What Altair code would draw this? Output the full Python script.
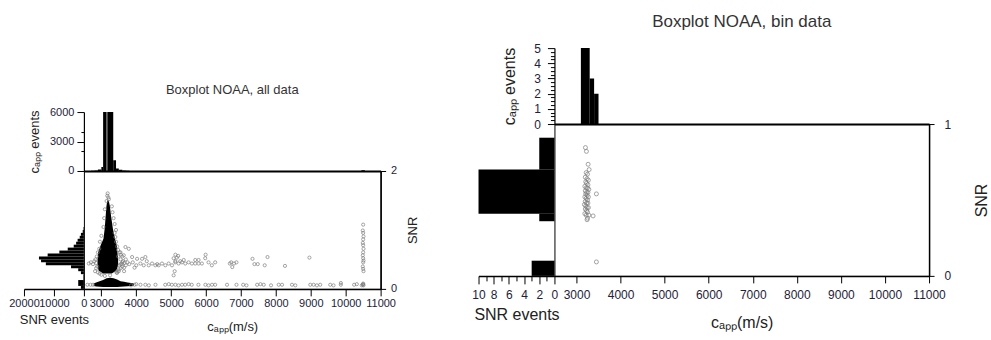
import altair as alt
import pandas as pd

FONT = "Liberation Sans"
LABEL_C = "#1e2238"
TITLE_C = "#222222"

XDOM = [2500, 11000]
XTICKS = [3000, 4000, 5000, 6000, 7000, 8000, 9000, 10000, 11000]

# ---------------- left figure: all data ----------------
L_top_lo = [2700, 2800, 2900, 3000, 3050, 3170, 3340, 3420, 3500, 3600, 3700, 10450]
L_top_hi = [2800, 2900, 3000, 3050, 3150, 3340, 3420, 3500, 3600, 3700, 3800, 10550]
L_top_n = [20, 50, 150, 400, 9000, 9000, 1100, 250, 120, 60, 30, 80]

L_side_lo = [0.00, 0.05, 0.15, 0.25, 0.30, 0.35, 0.40, 0.45, 0.50, 0.55, 0.60, 0.65, 0.70, 0.75, 0.80, 0.85, 0.90, 0.95, 1.00]
L_side_hi = [0.05, 0.15, 0.25, 0.30, 0.35, 0.40, 0.45, 0.50, 0.55, 0.60, 0.65, 0.70, 0.75, 0.80, 0.85, 0.90, 0.95, 1.00, 1.05]
L_side_n = [1000, 1900, 200, 1000, 1900, 4300, 12700, 14300, 15000, 12100, 8200, 5400, 3400, 2600, 2100, 1400, 1000, 400, 150]

# dense core (solid black region) : SNR level -> capp range
core_snr = [0.26, 0.31, 0.40, 0.50, 0.62, 0.74, 0.85, 1.02, 1.25, 1.40, 1.50]
core_lo = [3050, 2920, 2890, 2890, 2910, 2980, 3060, 3095, 3125, 3145, 3170]
core_hi = [3300, 3430, 3480, 3480, 3460, 3440, 3390, 3330, 3275, 3245, 3210]

# dense low-SNR band : capp -> SNR range
band_cap = [2780, 2850, 2950, 3050, 3150, 3250, 3350, 3450, 3550, 3650, 3750, 3850, 3930]
band_lo = [0.05, 0.04, 0.035, 0.03, 0.03, 0.03, 0.03, 0.03, 0.035, 0.04, 0.045, 0.05, 0.055]
band_hi = [0.09, 0.11, 0.13, 0.15, 0.18, 0.19, 0.18, 0.16, 0.13, 0.12, 0.11, 0.10, 0.09]

A_cap = [3180, 3170, 3200, 3215, 3150, 3380, 3400, 3420, 3450, 3480, 3520, 3560, 3600, 3480, 3550, 3620, 3660, 3580, 3520, 3600,
         3550, 3500, 3650, 3430, 3460, 2640, 2700, 2760, 2800, 2830, 2850, 2870, 2880, 2900, 2940, 3000, 3100, 3250,
         2850, 2820, 2900, 2950, 3450, 3500, 3550, 3600, 3700, 3650, 3700, 3750, 3420, 3380, 3350, 3320, 3300,
         3100, 3080, 3060, 3000, 2960]
A_snr = [1.62, 1.58, 1.55, 1.52, 1.49, 0.95, 0.88, 0.80, 0.72, 0.66, 0.62, 0.58, 0.55, 0.55, 0.50, 0.47, 0.44, 0.42, 0.40, 0.38,
         0.35, 0.33, 0.36, 0.28, 0.30, 0.43, 0.45, 0.42, 0.47, 0.50, 0.44, 0.55, 0.38, 0.62, 0.68, 0.24, 0.22, 0.23,
         0.35, 0.30, 0.28, 0.26, 0.27, 0.30, 0.42, 0.45, 0.40, 0.30, 0.50, 0.45, 1.00, 1.10, 1.20, 1.30, 1.40,
         1.35, 1.20, 1.05, 0.90, 0.80]

B_cap = [3690, 3785, 3547, 3642, 3880, 4023, 4166, 4261,
         4118, 4214, 4356, 4452, 4547, 4642, 4737, 4832, 4928, 5023, 5118, 5213, 5308, 5404, 5499, 5594, 5689, 5785, 5880,
         5070, 5165, 5120, 5070, 5260, 5360, 5690, 5785, 5975, 6070, 6165, 6260,
         6680, 6720, 6750, 6800, 6870, 7330, 7385, 7480, 7680, 7760, 8260, 8960,
         5120, 5200, 5986, 5100, 4300, 4600, 3800, 3900, 4000, 3950]
B_snr = [0.71, 0.68, 0.62, 0.57, 0.54, 0.51, 0.51, 0.54,
         0.43, 0.40, 0.40, 0.43, 0.40, 0.40, 0.43, 0.40, 0.43, 0.40, 0.45, 0.43, 0.45, 0.43, 0.45, 0.43, 0.43, 0.43, 0.43,
         0.52, 0.53, 0.47, 0.23, 0.47, 0.49, 0.49, 0.49, 0.52, 0.45, 0.40, 0.45,
         0.43, 0.45, 0.37, 0.43, 0.45, 0.51, 0.42, 0.42, 0.40, 0.54, 0.39, 0.53,
         0.58, 0.56, 0.58, 0.30, 0.47, 0.42, 0.42, 0.45, 0.40, 0.36]

C_cap = [10500, 10490, 10500, 10510, 10500, 10490, 10500, 10510, 10500, 10490,
         10500, 10510, 10500, 10490, 10500, 10510, 10500, 10490, 10510, 10500]
C_snr = [1.09, 0.99, 0.95, 0.89, 0.84, 0.78, 0.74, 0.68, 0.62, 0.57,
         0.52, 0.48, 0.45, 0.38, 0.34, 0.30, 0.08, 0.07, 0.06, 0.09]

D_cap = [2600, 2690, 2760, 3950, 3850, 4000, 4120, 4260, 4360, 4550,
         4830, 4930, 5020, 5120, 5210, 5310, 5400, 5500, 5590, 5780,
         5980, 6070, 6170, 6260, 6600, 6871, 7062, 7157, 7462, 7557,
         7652, 7861, 8080, 8176, 8461, 8556, 8985, 9080, 9175, 9270,
         9556, 9651, 9861, 9861, 10241, 10318, 10460]
D_snr = [0.07, 0.07, 0.07, 0.07, 0.06, 0.08, 0.07, 0.07, 0.06, 0.07,
         0.07, 0.08, 0.07, 0.07, 0.06, 0.07, 0.07, 0.08, 0.07, 0.07,
         0.07, 0.06, 0.07, 0.07, 0.07, 0.07, 0.07, 0.06, 0.07, 0.08,
         0.07, 0.06, 0.07, 0.07, 0.07, 0.06, 0.07, 0.07, 0.06, 0.07,
         0.07, 0.06, 0.07, 0.10, 0.07, 0.08, 0.06]

# ---------------- right figure: bin data ----------------
R_top_lo = [3100, 3300, 3400]
R_top_hi = [3300, 3400, 3500]
R_top_n = [5, 3, 2]

R_side_lo = [0.00, 0.36, 0.41, 0.70]
R_side_hi = [0.10, 0.41, 0.70, 0.91]
R_side_n = [3, 2, 10, 2]

R_cap = [3203, 3226, 3264, 3287, 3452, 3377, 3250, 3240, 3452,
         3220, 3250, 3200, 3240, 3270, 3210, 3230, 3260, 3190, 3220,
         3250, 3280, 3200, 3230, 3260, 3210, 3240, 3270, 3190, 3220,
         3250, 3200, 3230, 3260, 3180, 3210, 3240, 3270, 3200, 3230,
         3250, 3190, 3280, 3220]
R_snr = [0.845, 0.82, 0.735, 0.70, 0.54, 0.395, 0.38, 0.37, 0.092,
         0.68, 0.67, 0.65, 0.64, 0.63, 0.62, 0.61, 0.60, 0.59, 0.58,
         0.58, 0.57, 0.56, 0.55, 0.55, 0.54, 0.53, 0.52, 0.52, 0.51,
         0.50, 0.49, 0.48, 0.48, 0.47, 0.46, 0.45, 0.45, 0.44, 0.43,
         0.42, 0.41, 0.40, 0.40]


def blank(w, h):
    return alt.Chart(pd.DataFrame({"v": [0]})).mark_point(opacity=0).encode(
        x=alt.value(0), y=alt.value(0)).properties(width=w, height=h)


def top_hist(lo, hi, n, ymax, major, minor, W, H, title, s):
    df = pd.DataFrame({"lo": lo, "hi": hi, "n": n})
    x = alt.X("lo:Q", scale=alt.Scale(domain=XDOM, nice=False, zero=False),
              axis=alt.Axis(labels=False, ticks=False, title=None, domainWidth=2))
    base = alt.Chart(df)
    bars = base.mark_rect(color="black", clip=True).encode(
        x=x, x2="hi:Q",
        y=alt.Y("n:Q", scale=alt.Scale(domain=[0, ymax], nice=False, zero=True),
                axis=alt.Axis(values=major, format="d", tickSize=s["ttk"], labelPadding=s["tlp"],
                              labelFontSize=s["lfs"], title="cₐₚₚ events", titleFontSize=s["tfs"],
                              titlePadding=s["ttp"], domainWidth=1.2)),
        y2=alt.datum(0))
    ticks = base.mark_rect(opacity=0, clip=True).encode(
        x=x, x2="hi:Q",
        y=alt.Y("n:Q", axis=alt.Axis(values=minor, orient="left", labels=False, domain=False,
                                     tickSize=s["tmk"], title=None)),
        y2=alt.datum(0))
    return alt.layer(bars, ticks).resolve_axis(y="independent").properties(
        width=W, height=H,
        title=alt.TitleParams(title, fontSize=s["cts"], offset=s["cto"], frame="group", anchor="middle",
                              color="#333333", font=FONT, fontWeight="normal"))


def side_hist(lo, hi, n, ydom, xmax, major, minor, W, H, s):
    df = pd.DataFrame({"lo": lo, "hi": hi, "n": n})
    y = alt.Y("lo:Q", scale=alt.Scale(domain=ydom, nice=False, zero=False), axis=None)
    xs = alt.Scale(domain=[0, xmax], reverse=True, nice=False)
    base = alt.Chart(df)
    layers = [base.mark_rect(color="black").encode(
        y=y, y2="hi:Q",
        x=alt.X("n:Q", scale=xs,
                axis=alt.Axis(values=major, format="d", tickSize=s["stk"], labelPadding=s["slp"],
                              labelFontSize=s["lfs"], title="SNR events", titleFontSize=s["tfs"],
                              titlePadding=s["stp"], domainWidth=1.5)),
        x2=alt.datum(0))]
    if minor:
        layers.append(base.mark_rect(opacity=0).encode(
            y=y, y2="hi:Q",
            x=alt.X("n:Q", scale=xs, axis=alt.Axis(values=minor, orient="bottom", labels=False,
                                                   domain=False, tickSize=s["smk"], title=None)),
            x2=alt.datum(0)))
    return alt.layer(*layers).resolve_axis(x="independent").properties(width=W, height=H)


def main_panel(ydom, yvals, pts, core, band, W, H, s):
    xscale = alt.Scale(domain=XDOM, nice=False, zero=False)
    yscale = alt.Scale(domain=ydom, nice=False, zero=False)
    xaxis = alt.Axis(values=XTICKS, format="d", tickSize=s["xtk"], labelPadding=s["xlp"],
                     labelFontSize=s["lfs"], title="cₐₚₚ(m/s)", titleFontSize=s["tfs"],
                     titlePadding=s["xtp"], domainWidth=1.5)
    yaxis = alt.Axis(orient="right", values=yvals, format="d",
                     labelExpr="datum.value % 1 == 0 ? datum.label : ''",
                     tickSize=s["ytk"], labelPadding=s["ylp"], labelFontSize=s["lfs"], title="SNR",
                     titleFontSize=s["tfs"], titlePadding=s["ytp"], titleAngle=270, titleBaseline="top",
                     domainWidth=1.5)
    layers = []
    if core is not None:
        cdf = pd.DataFrame({"snr": core[0], "lo": core[1], "hi": core[2]})
        layers.append(alt.Chart(cdf).mark_area(orient="horizontal", color="black").encode(
            y=alt.Y("snr:Q", scale=yscale, axis=yaxis),
            x=alt.X("lo:Q", scale=xscale, axis=xaxis), x2="hi:Q"))
    if band is not None:
        bdf = pd.DataFrame({"cap": band[0], "lo": band[1], "hi": band[2]})
        layers.append(alt.Chart(bdf).mark_area(color="black").encode(
            x=alt.X("cap:Q", scale=xscale, axis=xaxis),
            y=alt.Y("lo:Q", scale=yscale, axis=yaxis), y2="hi:Q"))
    pdf = pd.DataFrame({"cap": pts[0], "snr": pts[1]})
    layers.append(alt.Chart(pdf).mark_point(shape="circle", filled=False, size=s["ps"], strokeWidth=0.8,
                                            color="#7a7a7a", opacity=0.85).encode(
        x=alt.X("cap:Q", scale=xscale, axis=xaxis),
        y=alt.Y("snr:Q", scale=yscale, axis=yaxis)))
    return alt.layer(*layers).properties(width=W, height=H,
                                         view=alt.ViewBackground(stroke="black", strokeWidth=1))


# ---------------- build left figure ----------------
sL = dict(lfs=11, tfs=13, cts=13, cto=9, ttk=7, tmk=3, tlp=3, ttp=8,
          stk=7, smk=4, slp=2, stp=5, xtk=7, xlp=2, xtp=12, ytk=5, ylp=5, ytp=10, ps=10)
LW, MW, TH, MH = 60, 297, 59, 118
ptsL = [A_cap + B_cap + C_cap + D_cap, A_snr + B_snr + C_snr + D_snr]
topL = top_hist(L_top_lo, L_top_hi, L_top_n, 6000, [0, 3000, 6000], [2000, 4000], MW, TH,
                "Boxplot NOAA, all data", sL)
sideL = side_hist(L_side_lo, L_side_hi, L_side_n, [0, 2], 20000, [0, 10000, 20000], None, LW, MH, sL)
mainL = main_panel([0, 2], [0, 0.25, 0.5, 0.75, 1, 1.25, 1.5, 1.75, 2], ptsL,
                   [core_snr, core_lo, core_hi], [band_cap, band_lo, band_hi], MW, MH, sL)
gridL = alt.concat(blank(LW, TH), topL, sideL, mainL, columns=2, spacing=0, bounds="flush")
figL = alt.vconcat(blank(1, 34), gridL, spacing=0)

# ---------------- build right figure ----------------
sR = dict(lfs=12, tfs=16, cts=17, cto=11, ttk=7, tmk=4, tlp=7, ttp=16,
          stk=8, smk=5, slp=6, stp=6, xtk=7, xlp=7, xtp=14, ytk=5, ylp=10, ytp=23, ps=16)
LW2, MW2, TH2, MH2 = 76, 375, 76, 152
topR = top_hist(R_top_lo, R_top_hi, R_top_n, 5, [0, 1, 2, 3, 4, 5],
                [0.25, 0.5, 0.75, 1.25, 1.5, 1.75, 2.25, 2.5, 2.75, 3.25, 3.5, 3.75, 4.25, 4.5, 4.75],
                MW2, TH2, "Boxplot NOAA, bin data", sR)
sideR = side_hist(R_side_lo, R_side_hi, R_side_n, [0, 1], 10, [0, 2, 4, 6, 8, 10], [1, 3, 5, 7, 9],
                  LW2, MH2, sR)
mainR = main_panel([0, 1], [0, 0.25, 0.5, 0.75, 1], [R_cap, R_snr], None, None, MW2, MH2, sR)
gridR = alt.concat(blank(LW2, TH2), topR, sideR, mainR, columns=2, spacing=0, bounds="flush")

chart = alt.hconcat(figL, gridR, spacing=50).properties(
    padding={"left": 8, "top": 12, "right": 0, "bottom": 0},
    background="white",
).configure_view(stroke="transparent").configure_axis(
    labelFont=FONT, titleFont=FONT, labelColor=LABEL_C, titleColor=TITLE_C,
    domainColor="black", tickColor="black", grid=False, titleFontWeight="normal",
    labelFlush=False, labelOverlap=False,
).configure_title(font=FONT, color="#333333", fontWeight="normal")

chart.save("out.html", embed_options={"renderer": "svg", "actions": False})
